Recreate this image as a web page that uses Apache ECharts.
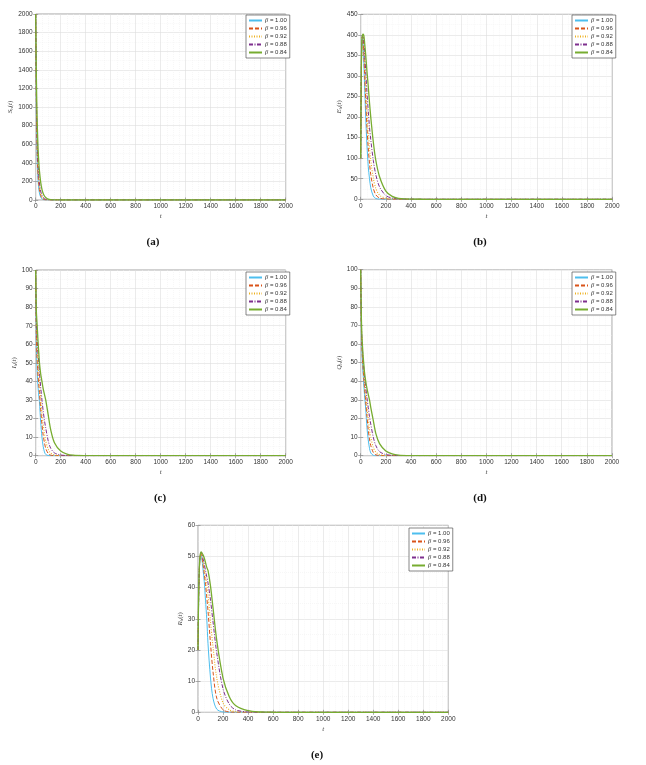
<!DOCTYPE html>
<html><head><meta charset="utf-8">
<script src="https://cdn.jsdelivr.net/npm/echarts@6/dist/echarts.min.js"></script>
<style>html,body{margin:0;padding:0;background:#fff}#c{width:646px;height:765px}</style>
</head><body><div id="c"></div>
<script>
// time grid (t)
const T = [0,5,10,15,20,25,30,40,50,60,70,80,100,120,150,200,250,300,400,500,600,800,1000,1500,2000];
const betaLabels = ['1.00','0.96','0.92','0.88','0.84'];

// S_h(t)
const S_100 = [2000,1000,520,300,190,120,75,30,12,4,1.5,0.5,0.05,0,0,0,0,0,0,0,0,0,0,0,0];
const S_096 = [2000,1080,620,380,250,165,110,50,22,10,4,2,0.4,0.05,0,0,0,0,0,0,0,0,0,0,0];
const S_092 = [2000,1150,700,450,300,210,145,70,35,17,8,4,1,0.3,0.05,0,0,0,0,0,0,0,0,0,0];
const S_088 = [2000,1220,780,520,360,255,185,95,50,27,15,8,2.5,0.8,0.2,0.02,0,0,0,0,0,0,0,0,0];
const S_084 = [2000,1350,950,700,520,400,310,190,115,70,43,27,10,4,1,0.2,0.05,0,0,0,0,0,0,0,0];
// E_h(t)
const E_100 = [100,300,385,395,375,330,285,200,130,80,50,28,8,2,0.3,0,0,0,0,0,0,0,0,0,0];
const E_096 = [100,305,385,397,388,355,315,240,175,125,88,60,27,11,3,0.5,0.1,0,0,0,0,0,0,0,0];
const E_092 = [100,310,387,398,393,370,340,275,215,165,125,95,52,27,10,2.5,0.6,0.15,0,0,0,0,0,0,0];
const E_088 = [100,315,389,399,398,385,362,310,260,215,175,145,95,60,30,9,3,1,0.1,0,0,0,0,0,0];
const E_084 = [100,320,390,400,402,398,385,350,310,275,235,200,140,95,55,20,7,2.5,0.3,0.05,0,0,0,0,0];
// I_h(t)
const I_100 = [100,60,48,41,36,32,29,18,10,5,2,0.7,0.1,0,0,0,0,0,0,0,0,0,0,0,0];
const I_096 = [100,65,54,47,42,38,34,25,17,11,7,4,1.2,0.3,0.05,0,0,0,0,0,0,0,0,0,0];
const I_092 = [100,70,60,53,48,44,40,31,23,17,12,8,3.5,1.4,0.4,0.05,0,0,0,0,0,0,0,0,0];
const I_088 = [100,74,66,59,54,50,45,37,30,24,19,15,8,4,1.5,0.4,0.1,0.03,0,0,0,0,0,0,0];
const I_084 = [100,78,72,66,60,55,50,44,40,36,33,30,22,14,7,2.5,0.9,0.3,0.05,0,0,0,0,0,0];
// Q_h(t)
const Q_100 = [100,68,55,48,43,38,33,25,15,8.5,4,1.5,0.2,0,0,0,0,0,0,0,0,0,0,0,0];
const Q_096 = [100,70,58,51,46,41,37,29,21,14,9,5.5,1.8,0.5,0.1,0,0,0,0,0,0,0,0,0,0];
const Q_092 = [100,71,60,53,48,44,40,33,26,20,14,10,4.5,2,0.6,0.1,0,0,0,0,0,0,0,0,0];
const Q_088 = [100,73,62,56,51,47,43,37,31,26,21,17,10,5.5,2.2,0.6,0.2,0.06,0,0,0,0,0,0,0];
const Q_084 = [100,75,64,58,53,49,45,40,36,33,30,26,19,12,6.5,2.5,1,0.35,0.05,0,0,0,0,0,0];
// R_h(t)
const R_100 = [20,35,44,49,50.5,50.5,49.5,46,42,36,30,22,11,4.5,1,0.1,0,0,0,0,0,0,0,0,0];
const R_096 = [20,36,44.5,49.3,50.8,51,50.3,47.5,44.5,41,37,32.5,22,13,4.5,0.8,0.1,0,0,0,0,0,0,0,0];
const R_092 = [20,36.5,45,49.4,50.9,51.2,50.8,48.5,46,43.5,41,38,29,21,11,3,0.8,0.2,0,0,0,0,0,0,0];
const R_088 = [20,37,45.5,49.5,51,51.4,51.2,49.3,47.5,45.5,43.5,41.5,36,29,19,7.5,2.6,0.8,0.08,0,0,0,0,0,0];
const R_084 = [20,38,46,49.5,51,51.5,51.5,50.5,49.5,48,46.5,45.5,40.5,33.5,23,11,5,2.2,0.5,0.1,0.02,0,0,0,0];

// axis settings (data ranges)
const xMax = 2000, xInterval = 200;
const yMaxs = [2000, 450, 100, 100, 60];
const yIntervals = [200, 50, 10, 10, 10];
const yVars = ['S','E','I','Q','R'];
const captions = ['(a)','(b)','(c)','(d)','(e)'];
const panelData = [
  [S_100,S_096,S_092,S_088,S_084],
  [E_100,E_096,E_092,E_088,E_084],
  [I_100,I_096,I_092,I_088,I_084],
  [Q_100,Q_096,Q_092,Q_088,Q_084],
  [R_100,R_096,R_092,R_088,R_084]
];

// layout / style
const grids = [
  {left:35.7, top:14, width:250, height:186},
  {left:360.7, top:14.3, width:251.6, height:185},
  {left:35.7, top:270, width:250, height:185.7},
  {left:360.7, top:269.7, width:251.3, height:186},
  {left:198, top:525.3, width:250.3, height:187}
];
const legendPos = [[246,15],[572,15],[246,272],[572,272],[409,528]];
const yNameGap = [17, 17, 17, 17, 10];
const captionPos = [[153,242],[480,242],[160,498],[480,498],[317,755]];
const COLORS = ['#4DBEEE','#D95319','#EDB120','#7E2F8E','#77AC30'];
const LTYPES = ['solid',[4,2],[1,1.5],[4,1.5,1,1.5],'solid'];
const LWIDTH = [1,1,1.1,1,1.3];

const names = betaLabels.map(b => 'β = ' + b);
const labelStyle = {fontSize:6.5, color:'#333', fontFamily:'Liberation Sans, Arial, sans-serif', formatter: v => String(v)};
const gridOpt = [], xAxes = [], yAxes = [], series = [], legends = [], graphics = [];

grids.forEach((g, i) => {
  gridOpt.push(Object.assign({show:true, borderColor:'#8a8a8a', borderWidth:0.8, backgroundColor:'#fff'}, g));
  const xBase = {type:'value', gridIndex:i, min:0, max:xMax, interval:xInterval};
  xAxes.push(Object.assign({}, xBase, {
    position:'bottom',
    name:'t', nameLocation:'middle', nameGap:13,
    nameTextStyle:{fontSize:7, fontStyle:'italic', color:'#444', fontFamily:'Liberation Serif, serif'},
    axisLine:{show:false},
    axisTick:{show:true, inside:true, length:2.5, lineStyle:{color:'#888', width:0.7}},
    axisLabel:Object.assign({margin:3}, labelStyle),
    splitLine:{show:true, lineStyle:{color:'#dedede', width:0.6}},
    minorTick:{show:false, splitNumber:4},
    minorSplitLine:{show:true, lineStyle:{color:'#efefef', width:0.5, type:[1,1]}}
  }));
  xAxes.push(Object.assign({}, xBase, {
    position:'top', axisLine:{show:false}, axisLabel:{show:false}, splitLine:{show:false},
    axisTick:{show:true, inside:true, length:2.5, lineStyle:{color:'#888', width:0.7}}
  }));
  const yBase = {type:'value', gridIndex:i, min:0, max:yMaxs[i], interval:yIntervals[i]};
  yAxes.push(Object.assign({}, yBase, {
    position:'left',
    name:'{i|' + yVars[i] + '}{s|h}{n|(}{i|t}{n|)}', nameLocation:'middle', nameGap:yNameGap[i],
    nameTextStyle:{color:'#444', rich:{
      i:{fontSize:7, fontStyle:'italic', fontFamily:'Liberation Serif, serif', color:'#444'},
      s:{fontSize:5, fontFamily:'Liberation Serif, serif', color:'#444', padding:[3,0,0,0]},
      n:{fontSize:7, fontFamily:'Liberation Serif, serif', color:'#444'}
    }},
    axisLine:{show:false},
    axisTick:{show:true, inside:true, length:2.5, lineStyle:{color:'#888', width:0.7}},
    axisLabel:Object.assign({margin:3}, labelStyle),
    splitLine:{show:true, lineStyle:{color:'#dedede', width:0.6}},
    minorTick:{show:false, splitNumber:2},
    minorSplitLine:{show:true, lineStyle:{color:'#efefef', width:0.5, type:[1,1]}}
  }));
  yAxes.push(Object.assign({}, yBase, {
    position:'right', axisLine:{show:false}, axisLabel:{show:false}, splitLine:{show:false},
    axisTick:{show:true, inside:true, length:2.5, lineStyle:{color:'#888', width:0.7}}
  }));
  panelData[i].forEach((vals, k) => {
    series.push({
      type:'line', name:names[k], xAxisIndex:2*i, yAxisIndex:2*i,
      data:T.map((t, j) => [t, vals[j]]),
      showSymbol:false, symbol:'none', animation:false, clip:true,
      smooth:0.3,
      lineStyle:{color:COLORS[k], width:LWIDTH[k], type:LTYPES[k]},
      itemStyle:{color:COLORS[k]}
    });
  });
  legends.push({
    data:names, orient:'vertical', left:legendPos[i][0], top:legendPos[i][1],
    itemWidth:13, itemHeight:6, itemGap:1, padding:[2,3,2,2],
    backgroundColor:'#fff', borderColor:'#555', borderWidth:0.7,
    selectedMode:false,
    itemStyle:{opacity:0},
    formatter: n => '{g|β}{n|' + n.slice(1) + '}',
    textStyle:{fontSize:6, color:'#333', padding:[0,0,0,-2], rich:{
      g:{fontSize:6.5, fontStyle:'italic', fontFamily:'Liberation Serif, serif', color:'#333'},
      n:{fontSize:6, fontFamily:'Liberation Sans, Arial, sans-serif', color:'#333'}
    }}
  });
  graphics.push({
    type:'text', x:captionPos[i][0], y:captionPos[i][1],
    style:{text:captions[i], font:'bold 11px "Liberation Serif", serif', fill:'#111', textAlign:'center', textVerticalAlign:'middle'}
  });
});

const chart = echarts.init(document.getElementById('c'), null, {renderer:'canvas'});
chart.setOption({
  animation:false, backgroundColor:'#fff',
  grid:gridOpt, xAxis:xAxes, yAxis:yAxes, series:series, legend:legends, graphic:graphics
});
</script></body></html>
